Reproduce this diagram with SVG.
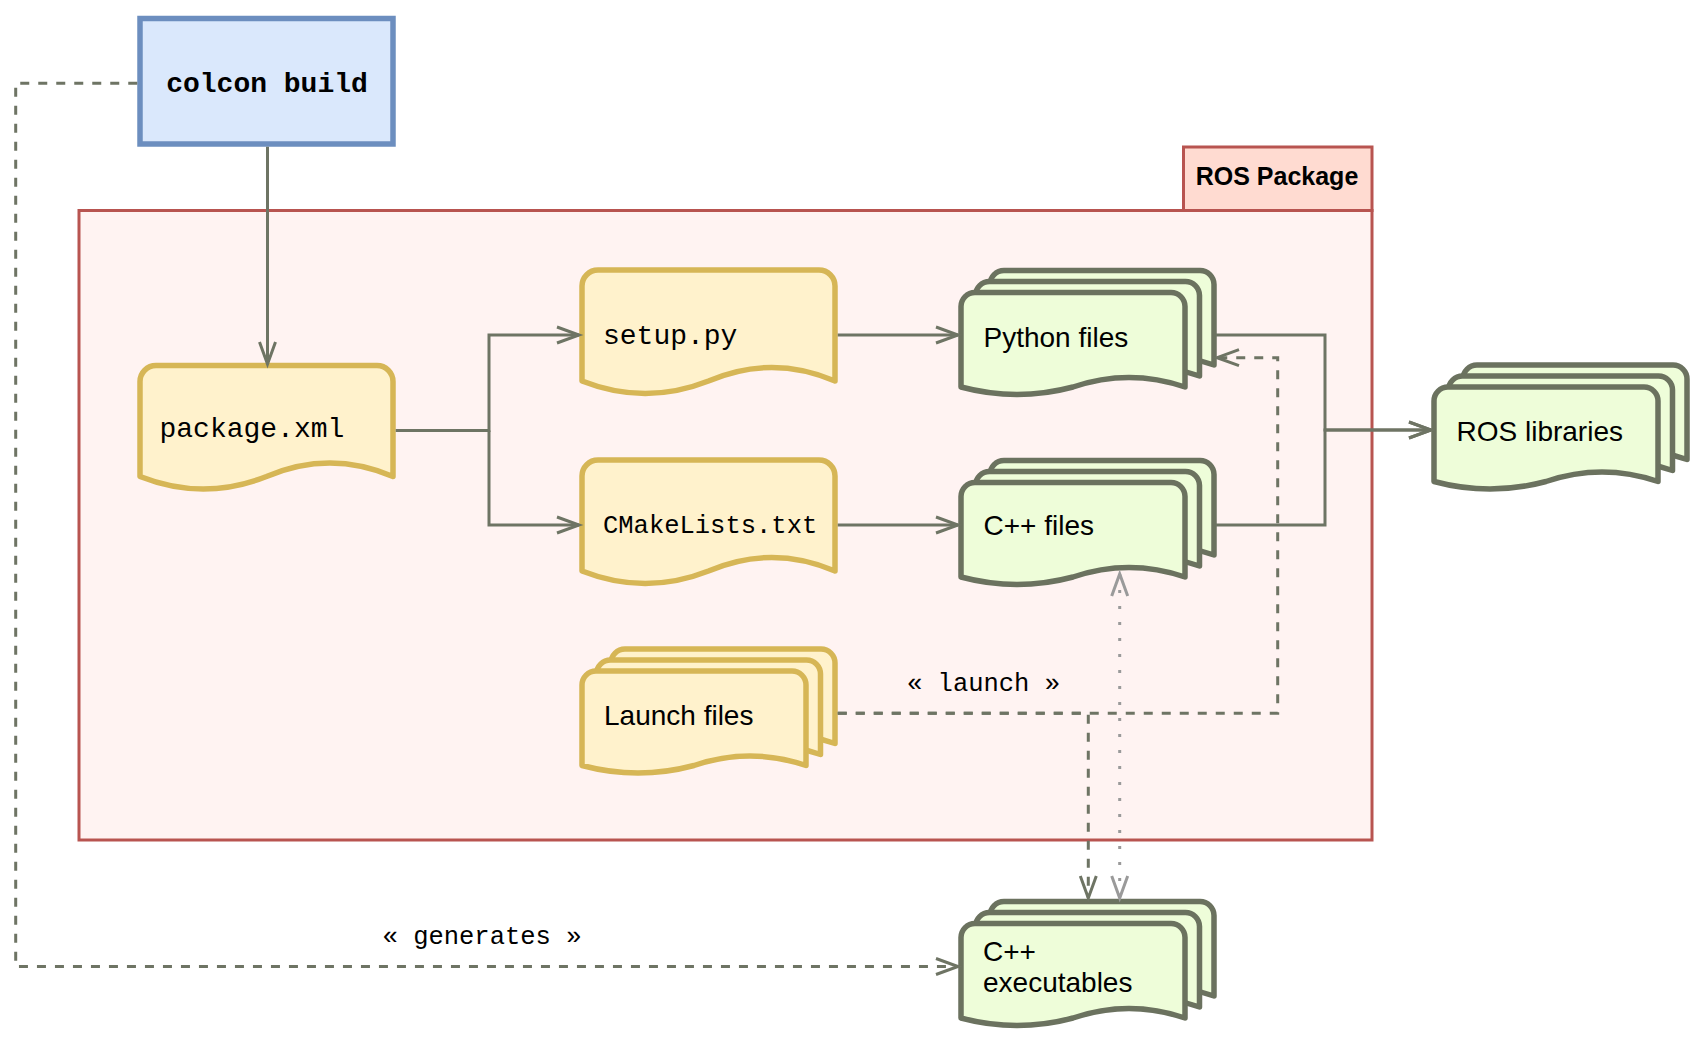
<svg xmlns="http://www.w3.org/2000/svg" xmlns:xlink="http://www.w3.org/1999/xlink" width="1704" height="1038" viewBox="0 0 1704 1038">
<style>
.conn{fill:none;stroke:#6e7464;stroke-width:3;}
.dash{stroke-dasharray:9 9;}
.dot{fill:none;stroke:#9a9a9a;stroke-width:3;stroke-dasharray:3 13;}
.yellow{fill:#fff2cc;stroke:#d6b656;stroke-width:5.5;stroke-linejoin:round;}
.green{fill:#eefdd9;stroke:#6b725f;stroke-width:5.5;stroke-linejoin:round;}
.mono{font-family:"Liberation Mono","Courier New",monospace;fill:#000;}
.sans{font-family:"Liberation Sans",Arial,Helvetica,sans-serif;fill:#000;font-size:28px;}
</style>
<defs>
<marker id="arr" markerUnits="userSpaceOnUse" markerWidth="30" markerHeight="20" refX="0" refY="0" orient="auto" overflow="visible">
<path d="M-22,-8 L0,0 L-22,8" fill="none" stroke="#6e7464" stroke-width="3"/>
</marker>
<marker id="arrg" markerUnits="userSpaceOnUse" markerWidth="30" markerHeight="20" refX="0" refY="0" orient="auto-start-reverse" overflow="visible">
<path d="M-22,-8 L0,0 L-22,8" fill="none" stroke="#9a9a9a" stroke-width="3"/>
</marker>
<path id="doc" d="M0,111 L0,16 A16,16 0 0 1 16,0 L237,0 A16,16 0 0 1 253,16 L253,111 Q189.75,84 126.5,111 Q63.25,136 0,111 Z"/>
<path id="sheet" d="M0,94.5 L0,14 A14,14 0 0 1 14,0 L210,0 A14,14 0 0 1 224,14 L224,94.5 Q168,75.5 112,94.5 Q56,109.5 0,94.5 Z"/>
</defs>

<g id="ros-package">
<rect x="79" y="210.5" width="1293" height="629.5" fill="#fff3f2" stroke="#b85450" stroke-width="3"/>
<rect x="1183.5" y="147" width="188.5" height="63.5" fill="#ffdbd1" stroke="#b85450" stroke-width="3"/>
<text x="1277" y="185" font-family="Liberation Sans, Arial, sans-serif" font-size="25" font-weight="bold" text-anchor="middle">ROS Package</text>
</g>

<g id="colcon-build">
<rect x="140" y="18.5" width="253" height="125.5" fill="#dae8fc" stroke="#6c8ebf" stroke-width="5.5"/>
<text class="mono" x="267" y="91.7" font-size="28" font-weight="bold" text-anchor="middle">colcon build</text>
</g>

<g id="package-xml" transform="translate(140,365.5)">
<use xlink:href="#doc" class="yellow"/>
<text class="mono" x="19.5" y="71.8" font-size="28">package.xml</text>
</g>

<g id="setup-py" transform="translate(582,270)">
<use xlink:href="#doc" class="yellow"/>
<text class="mono" x="21" y="74" font-size="28">setup.py</text>
</g>

<g id="cmakelists" transform="translate(582,460)">
<use xlink:href="#doc" class="yellow"/>
<text class="mono" x="21" y="73.3" font-size="25.5">CMakeLists.txt</text>
</g>

<g id="launch-files" transform="translate(582,649)">
<use xlink:href="#sheet" class="yellow" transform="translate(29,0)"/>
<use xlink:href="#sheet" class="yellow" transform="translate(14.5,11)"/>
<use xlink:href="#sheet" class="yellow" transform="translate(0,22)"/>
<text class="sans" x="22" y="76">Launch files</text>
</g>

<g id="python-files" transform="translate(961,270.5)">
<use xlink:href="#sheet" class="green" transform="translate(29,0)"/>
<use xlink:href="#sheet" class="green" transform="translate(14.5,11)"/>
<use xlink:href="#sheet" class="green" transform="translate(0,22)"/>
<text class="sans" x="22.5" y="76.2">Python files</text>
</g>

<g id="cpp-files" transform="translate(961,460.5)">
<use xlink:href="#sheet" class="green" transform="translate(29,0)"/>
<use xlink:href="#sheet" class="green" transform="translate(14.5,11)"/>
<use xlink:href="#sheet" class="green" transform="translate(0,22)"/>
<text class="sans" x="22.5" y="74.5">C++ files</text>
</g>

<g id="ros-libraries" transform="translate(1434,365)">
<use xlink:href="#sheet" class="green" transform="translate(29,0)"/>
<use xlink:href="#sheet" class="green" transform="translate(14.5,11)"/>
<use xlink:href="#sheet" class="green" transform="translate(0,22)"/>
<text class="sans" x="22.5" y="75.7">ROS libraries</text>
</g>

<g id="cpp-executables" transform="translate(961,901.5)">
<use xlink:href="#sheet" class="green" transform="translate(29,0)"/>
<use xlink:href="#sheet" class="green" transform="translate(14.5,11)"/>
<use xlink:href="#sheet" class="green" transform="translate(0,22)"/>
<text class="sans" x="22" y="59.8">C++</text>
<text class="sans" x="22" y="90.5">executables</text>
</g>

<g id="connectors">
<path class="conn" d="M267.5,146.75 L267.5,364" marker-end="url(#arr)"/>
<path class="conn" d="M395.75,430.5 L489,430.5 L489,335 L579,335" marker-end="url(#arr)"/>
<path class="conn" d="M489,430.5 L489,525 L579,525" marker-end="url(#arr)"/>
<path class="conn" d="M837.75,335 L958,335" marker-end="url(#arr)"/>
<path class="conn" d="M837.75,525 L958,525" marker-end="url(#arr)"/>
<path class="conn" d="M1216,335 L1325,335 L1325,430 L1431,430" marker-end="url(#arr)"/>
<path class="conn" d="M1216,525 L1325,525 L1325,430 L1431,430" marker-end="url(#arr)"/>
<path class="conn dash" d="M837.75,713.3 L1277.7,713.3 L1277.7,357.7 L1217,357.7" marker-end="url(#arr)"/>
<path class="conn dash" d="M837.75,713.3 L1088.3,713.3 L1088.3,898" marker-end="url(#arr)"/>
<path class="dot" d="M1119.7,574 L1119.7,898" marker-start="url(#arrg)" marker-end="url(#arrg)"/>
<path class="conn dash" d="M137.25,83.3 L15.7,83.3 L15.7,966.5 L958,966.5" marker-end="url(#arr)"/>
<text class="mono" x="983.5" y="690.7" font-size="25.5" text-anchor="middle">« launch »</text>
<text class="mono" x="482" y="944" font-size="25.5" text-anchor="middle">« generates »</text>
</g>
</svg>
